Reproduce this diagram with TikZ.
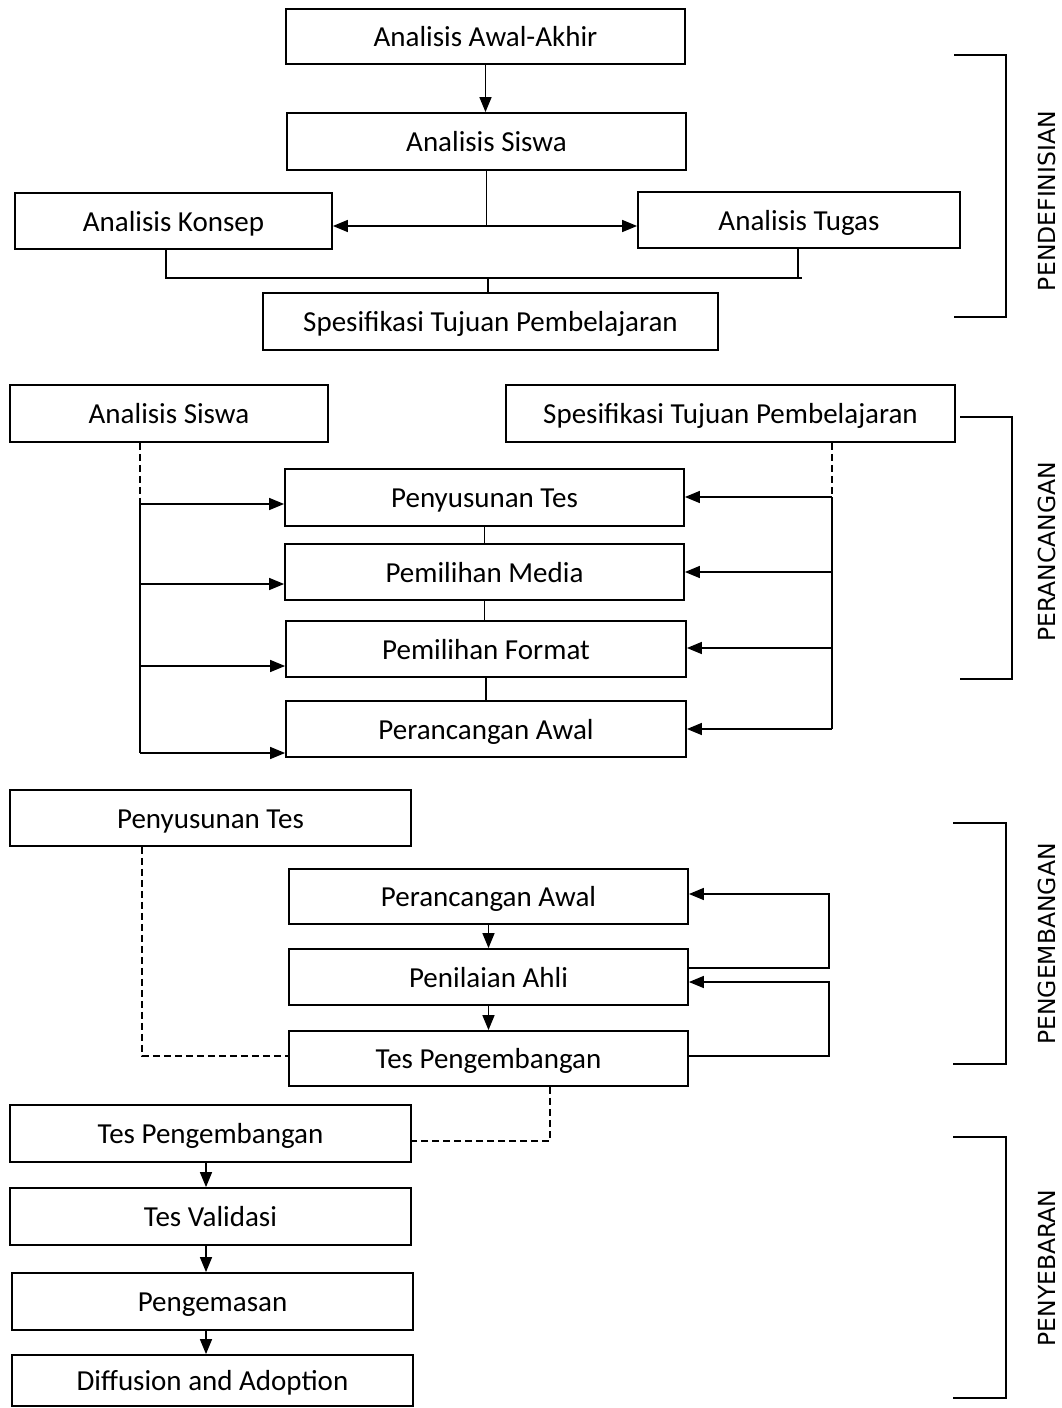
\documentclass[tikz,border=0pt]{standalone}
\usepackage{fontspec}
\setmainfont{Carlito}
\newfontfamily\labfont{DejaVu Sans}
\usetikzlibrary{arrows.meta}
\begin{document}
\begin{tikzpicture}[x=1pt,y=-1pt,
  box/.style={draw, line width=1.8pt, inner sep=0pt, text height=25pt, text depth=5pt, font=\fontsize{29}{34}\selectfont},
  ln/.style={line width=1.5pt},
  arr/.style={ln, -{Triangle[length=15pt,width=12pt]}},
  dsh/.style={line width=1.3pt, dash pattern=on 7pt off 4pt},
  brk/.style={line width=1.5pt},
  lab/.style={rotate=90, font=\labfont\fontsize{23.5}{28}\selectfont, inner sep=0pt}]
\useasboundingbox (0,0) rectangle (1062,1408);
\fill[white] (0,0) rectangle (1062,1408);

% ---------- PENDEFINISIAN ----------
\node[box, minimum width=399pt, minimum height=55pt] (aa) at (485.5,36.5) {Analisis Awal-Akhir};
\node[box, minimum width=399pt, minimum height=57pt] (as1) at (486.5,141.5) {Analisis Siswa};
\node[box, minimum width=317pt, minimum height=56pt] (ak) at (173.5,221) {Analisis Konsep};
\node[box, minimum width=322pt, minimum height=56pt] (at) at (799,220) {Analisis Tugas};
\node[box, minimum width=455pt, minimum height=57pt] (stp1) at (490.5,321.5) {Spesifikasi Tujuan Pembelajaran};

\draw[arr] (aa.south) -- (aa.south |- as1.north);
\coordinate (j1) at (486.5,226);
\draw[ln] (as1.south) -- (j1);
\draw[arr] (j1) -- (j1 -| ak.east);
\draw[arr] (j1) -- (j1 -| at.west);
\coordinate (bl) at (166,278);
\coordinate (br) at (802,278);
\coordinate (bt) at (798,278);
\coordinate (bm) at (488,278);
\draw[ln] (ak.south -| bl) -- (bl) -- (br);
\draw[ln] (at.south -| bt) -- (bt);
\draw[ln] (bm) -- (bm |- stp1.north);

\draw[brk] (954,55) -- (1006,55) -- (1006,317) -- (954,317);
\node[lab] (l1) at (1047,201) {PENDEFINISIAN};

% ---------- PERANCANGAN ----------
\node[box, minimum width=318pt, minimum height=57pt] (as2) at (169,413.5) {Analisis Siswa};
\node[box, minimum width=449pt, minimum height=57pt] (stp2) at (730.5,413.5) {Spesifikasi Tujuan Pembelajaran};
\node[box, minimum width=399pt, minimum height=57pt] (pt) at (484.5,497.5) {Penyusunan Tes};
\node[box, minimum width=399pt, minimum height=56pt] (pm) at (484.5,572) {Pemilihan Media};
\node[box, minimum width=400pt, minimum height=56pt] (pf) at (486,649) {Pemilihan Format};
\node[box, minimum width=400pt, minimum height=56pt] (pa) at (486,729) {Perancangan Awal};

\draw[ln] (pt.south) -- (pt.south |- pm.north);
\draw[ln] (pm.south) -- (pm.south |- pf.north);
\draw[ln] (pf.south) -- (pf.south |- pa.north);

\coordinate (lA) at (140,504);
\coordinate (lB) at (140,584);
\coordinate (lC) at (140,666);
\coordinate (lD) at (140,753);
\draw[dsh] (as2.south -| lA) -- (lA);
\draw[ln] (lA) -- (lD);
\draw[arr] (lA) -- (lA -| pt.west);
\draw[arr] (lB) -- (lB -| pm.west);
\draw[arr] (lC) -- (lC -| pf.west);
\draw[arr] (lD) -- (lD -| pa.west);

\coordinate (rA) at (832,497);
\coordinate (rB) at (832,572);
\coordinate (rC) at (832,648);
\coordinate (rD) at (832,729);
\draw[dsh] (stp2.south -| rA) -- (rA);
\draw[ln] (rA) -- (rD);
\draw[arr] (rA) -- (rA -| pt.east);
\draw[arr] (rB) -- (rB -| pm.east);
\draw[arr] (rC) -- (rC -| pf.east);
\draw[arr] (rD) -- (rD -| pa.east);

\draw[brk] (960,417) -- (1012,417) -- (1012,679) -- (960,679);
\node[lab] (l2) at (1047,552) {PERANCANGAN};

% ---------- PENGEMBANGAN ----------
\node[box, minimum width=401pt, minimum height=56pt] (pt3) at (210.5,818) {Penyusunan Tes};
\node[box, minimum width=399pt, minimum height=55pt] (pa3) at (488.5,896.5) {Perancangan Awal};
\node[box, minimum width=399pt, minimum height=56pt] (ah) at (488.5,977) {Penilaian Ahli};
\node[box, minimum width=399pt, minimum height=55pt] (tp3) at (488.5,1058.5) {Tes Pengembangan};

\draw[arr] (pa3.south) -- (pa3.south |- ah.north);
\draw[arr] (ah.south) -- (ah.south |- tp3.north);

\coordinate (f1) at (829,894);
\coordinate (f2) at (829,968);
\coordinate (f3) at (829,982);
\coordinate (f4) at (829,1056);
\draw[arr] (f2 -| ah.east) -- (f2) -- (f1) -- (f1 -| pa3.east);
\draw[arr] (f4 -| tp3.east) -- (f4) -- (f3) -- (f3 -| ah.east);

\coordinate (d1) at (142,1056);
\draw[dsh] (pt3.south -| d1) -- (d1) -- (d1 -| tp3.west);

\draw[brk] (953,823) -- (1006,823) -- (1006,1064) -- (953,1064);
\node[lab] (l3) at (1047,944) {PENGEMBANGAN};

% ---------- PENYEBARAN ----------
\node[box, minimum width=401pt, minimum height=57pt] (tp4) at (210.5,1133.5) {Tes Pengembangan};
\node[box, minimum width=401pt, minimum height=57pt] (tv) at (210.5,1216.5) {Tes Validasi};
\node[box, minimum width=401pt, minimum height=57pt] (pg) at (212.5,1301.5) {Pengemasan};
\node[box, minimum width=401pt, minimum height=51pt] (da) at (212.5,1380.5) {Diffusion and Adoption};

\coordinate (d2) at (550,1141);
\draw[dsh] (tp3.south -| d2) -- (d2) -- (d2 -| tp4.east);

\coordinate (ax) at (206,0);
\draw[arr] (tp4.south -| ax) -- (ax |- tv.north);
\draw[arr] (tv.south -| ax) -- (ax |- pg.north);
\draw[arr] (pg.south -| ax) -- (ax |- da.north);

\draw[brk] (953,1137) -- (1006,1137) -- (1006,1398) -- (953,1398);
\node[lab] (l4) at (1047,1268) {PENYEBARAN};
\end{tikzpicture}
\end{document}
